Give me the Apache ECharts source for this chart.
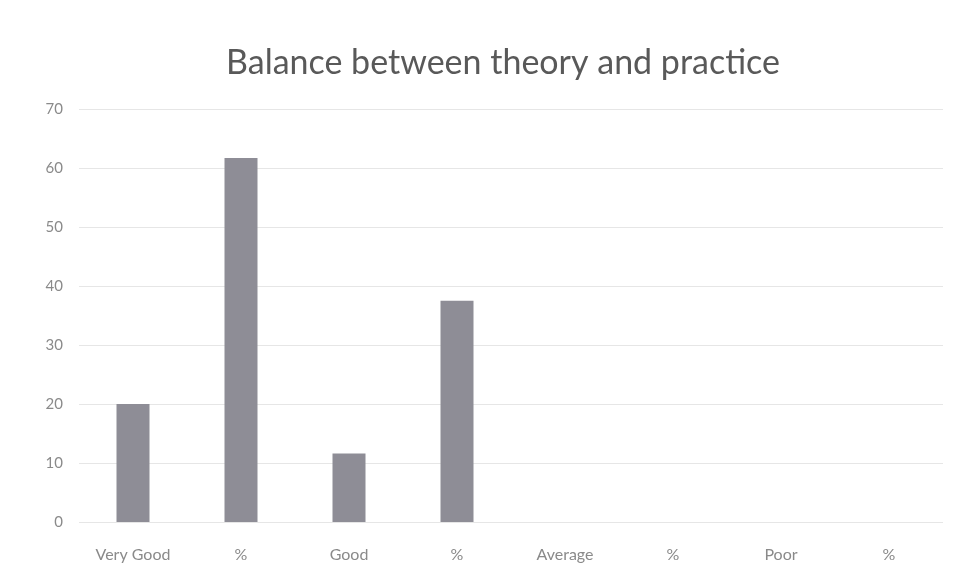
<!DOCTYPE html>
<html>
<head>
<meta charset="utf-8">
<script src="https://cdn.jsdelivr.net/npm/echarts@6/dist/echarts.min.js"></script>
<style>
  html, body { margin: 0; padding: 0; background: #fff; }
  #chart1 { width: 968px; height: 587px; }
</style>
</head>
<body>
<div id="chart1"></div>
<script>
var categories = ['Very Good', '%', 'Good', '%', 'Average', '%', 'Poor', '%'];
var values = [20, 61.7, 11.6, 37.5, 0, 0, 0, 0];
var yTicks = [0, 10, 20, 30, 40, 50, 60, 70];

var chart = echarts.init(document.getElementById('chart1'));

chart.setOption({
    animation: false,
    title: {
        text: 'Balance between theory and practice',
        left: 498,
        textAlign: 'center',
        top: 41,
        textStyle: {
            fontFamily: 'Lato',
            fontSize: 34,
            fontWeight: 'normal',
            color: '#595959'
        }
    },
    grid: {
        left: 79,
        right: 25,
        top: 109,
        bottom: 65
    },
    xAxis: {
        type: 'category',
        data: categories,
        axisLine: { show: false },
        axisTick: { show: false },
        axisLabel: {
            interval: 0,
            margin: 25,
            fontFamily: 'Lato',
            fontSize: 16,
            color: '#8a8a8a'
        }
    },
    yAxis: {
        type: 'value',
        min: yTicks[0],
        max: yTicks[yTicks.length - 1],
        interval: 10,
        axisLine: { show: false },
        axisTick: { show: false },
        axisLabel: {
            margin: 16,
            fontFamily: 'Lato',
            fontSize: 15,
            color: '#8a8a8a'
        },
        splitLine: { lineStyle: { color: '#e6e6e6', width: 1 } }
    },
    series: [{
        type: 'bar',
        data: values,
        barWidth: 33,
        itemStyle: { color: '#8e8d96' }
    }]
});
</script>
</body>
</html>
